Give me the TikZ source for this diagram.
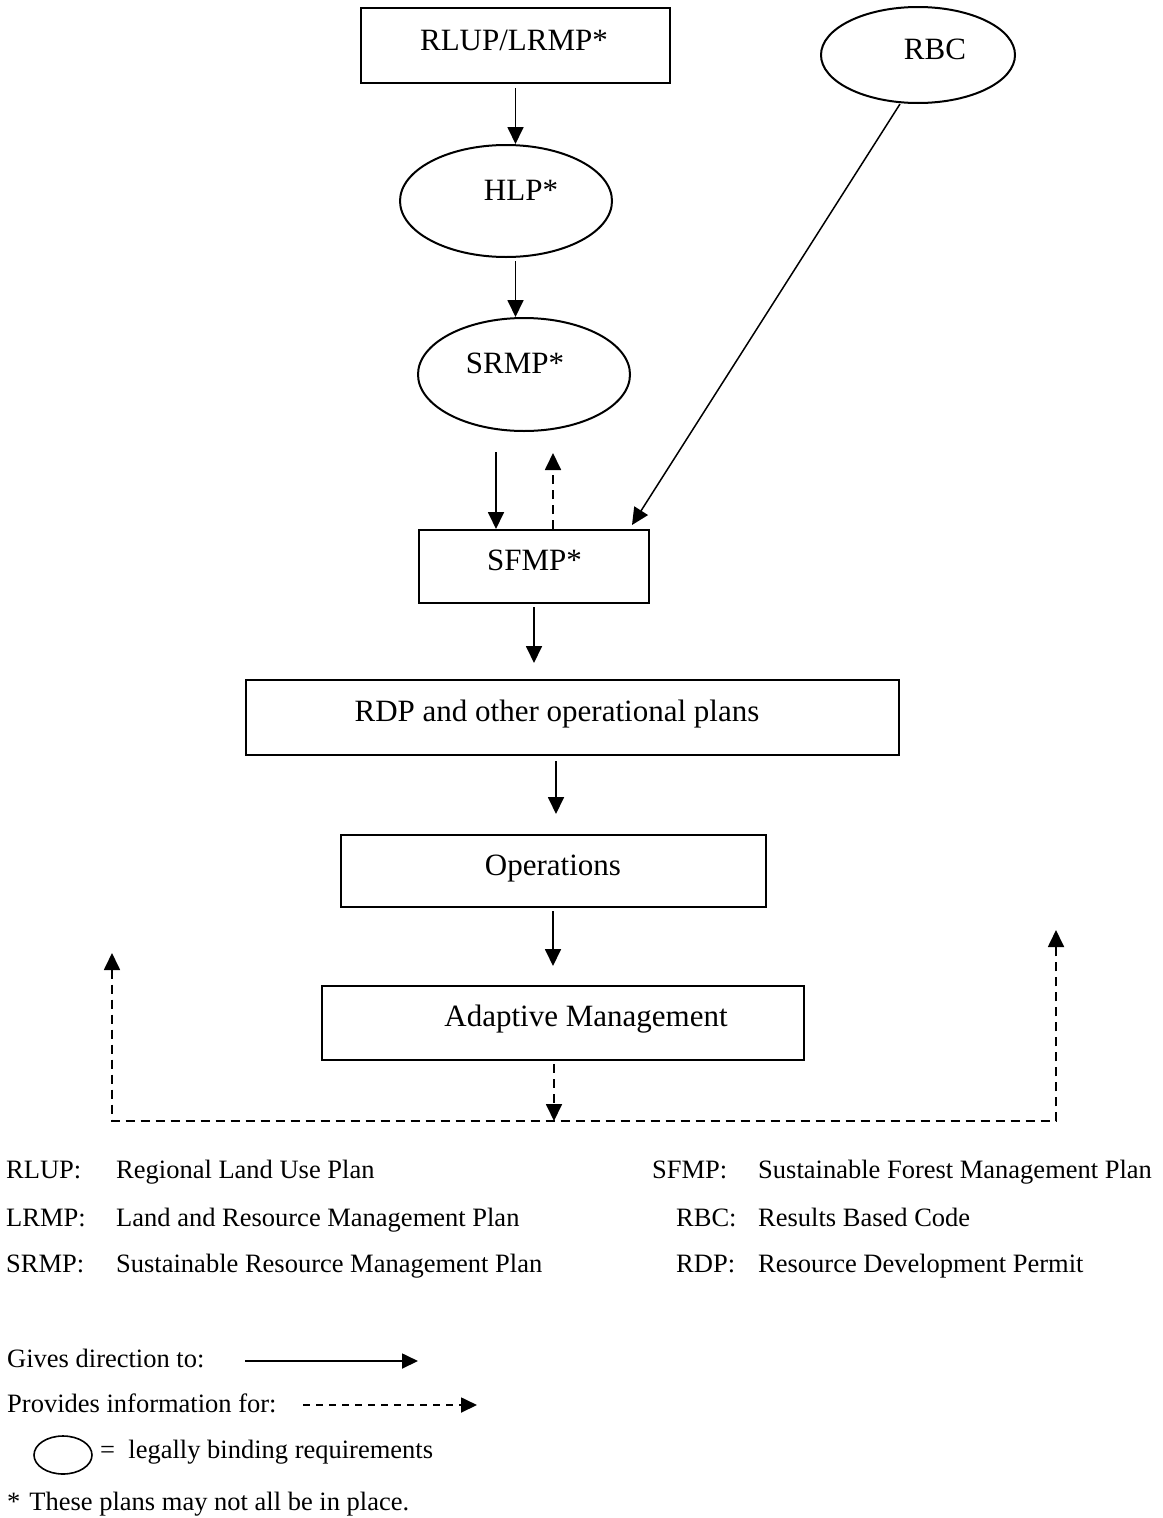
\documentclass[tikz,border=0pt]{standalone}
\usepackage{fontspec}
\setmainfont{Liberation Serif}
\usetikzlibrary{arrows.meta,shapes.geometric,calc}
\begin{document}
\begin{tikzpicture}[x=1pt,y=-1pt,
  box/.style={draw,line width=2pt,rectangle,inner sep=0pt},
  oval/.style={draw,line width=2pt,ellipse,inner sep=0pt},
  lbl/.style={anchor=base,inner sep=0pt,font=\fontsize{31}{37}\selectfont},
  leg/.style={anchor=base west,inner sep=0pt,font=\fontsize{26.5}{32}\selectfont},
  tip/.style={-{Triangle[width=16pt,length=17pt]}},
  arr/.style={line width=1.8pt,tip},
  dsh/.style={line width=1.8pt,dash pattern=on 9pt off 6pt},
  darr/.style={dsh,tip},
]
\path[fill=white] (0,0) rectangle (1162,1518);
\useasboundingbox (0,0) rectangle (1162,1518);

% shapes
\node[box,minimum width=309pt,minimum height=75pt] (rlup) at (515.5,45.5) {};
\node[lbl] (rlupT) at (514,50) {RLUP/LRMP*};
\node[oval,minimum width=194pt,minimum height=96pt] (rbc) at (918,55) {};
\node[lbl] (rbcT) at (935,59) {RBC};
\node[oval,minimum width=212pt,minimum height=112pt] (hlp) at (506,201) {};
\node[lbl] (hlpT) at (521,200) {HLP*};
\node[oval,minimum width=212pt,minimum height=113pt] (srmp) at (524,374.5) {};
\node[lbl] (srmpT) at (515,373) {SRMP*};
\node[box,minimum width=230pt,minimum height=73pt] (sfmp) at (534,566.5) {};
\node[lbl] (sfmpT) at (534.5,570) {SFMP*};
\node[box,minimum width=653pt,minimum height=75pt] (rdp) at (572.5,717.5) {};
\node[lbl] (rdpT) at (557,721) {RDP and other operational plans};
\node[box,minimum width=425pt,minimum height=72pt] (ops) at (553.5,871) {};
\node[lbl] (opsT) at (553,875) {Operations};
\node[box,minimum width=482pt,minimum height=74pt] (adm) at (563,1023) {};
\node[lbl] (admT) at (586,1026) {Adaptive Management};

% helper coordinates
\coordinate (sA) at (496,452);
\coordinate (sB) at (553,453);
\coordinate (rbcEnd) at (632,525);
\coordinate (colB) at (556,0);
\coordinate (colC) at (553,0);
\coordinate (fbMid) at (554,1121);
\coordinate (fbL) at (112,1121);
\coordinate (fbR) at (1056,1121);
\coordinate (fbLtip) at (112,953);
\coordinate (fbRtip) at (1056,930);

% connectors
\draw[arr] ($(rlup.south)+(0,4)$) -- (rlup.south |- hlp.north);
\draw[arr] ($(hlp.south -| rlup.south)+(0,3)$) -- (rlup.south |- srmp.north);
\draw[arr] (sA) -- (sA |- sfmp.north);
\draw[darr] (sfmp.north -| sB) -- (sB);
\draw[line width=1.5pt,tip] ($(rbc.south)+(-18,0)$) -- (rbcEnd);
\draw[arr,shorten >=16pt] ($(sfmp.south)+(0,3)$) -- (sfmp.south |- rdp.north);
\draw[arr,shorten >=20pt] ($(rdp.south -| colB)+(0,5)$) -- (colB |- ops.north);
\draw[arr,shorten >=19pt] ($(ops.south -| colC)+(0,3)$) -- (colC |- adm.north);
\draw[darr] ($(adm.south -| fbMid)+(0,3)$) -- (fbMid);
\draw[dsh,{Triangle[width=16pt,length=17pt]}-{Triangle[width=16pt,length=17pt]}] (fbLtip) -- (fbL) -- (fbR) -- (fbRtip);

% legend of abbreviations
\node[leg] (l1a) at (6,1178.5) {RLUP:};
\node[leg] (l1b) at (116,1178.5) {Regional Land Use Plan};
\node[leg] (l2a) at (6,1226.5) {LRMP:};
\node[leg] (l2b) at (116,1226.5) {Land and Resource Management Plan};
\node[leg] (l3a) at (6,1272.5) {SRMP:};
\node[leg] (l3b) at (116,1272.5) {Sustainable Resource Management Plan};
\node[leg] (r1a) at (652,1178.5) {SFMP:};
\node[leg] (r1b) at (758,1178.5) {Sustainable Forest Management Plan};
\node[leg] (r2a) at (676,1226.5) {RBC:};
\node[leg] (r2b) at (758,1226.5) {Results Based Code};
\node[leg] (r3a) at (676,1272.5) {RDP:};
\node[leg] (r3b) at (758,1272.5) {Resource Development Permit};

% key
\coordinate (k1s) at (245,1361);
\coordinate (k1e) at (418,1361);
\coordinate (k2s) at (303,1405);
\coordinate (k2e) at (477,1405);
\node[leg] (g1) at (7,1367) {Gives direction to:};
\draw[line width=1.8pt,-{Triangle[width=15pt,length=16pt]}] (k1s) -- (k1e);
\node[leg] (g2) at (7,1412) {Provides information for:};
\draw[line width=1.8pt,dash pattern=on 7pt off 6pt,-{Triangle[width=15pt,length=16pt]}] (k2s) -- (k2e);
\node[draw,ellipse,line width=1.6pt,minimum width=58pt,minimum height=38pt,inner sep=0pt] (legov) at (63,1455) {};
\node[leg] (g3) at (100,1458) {=\ \ legally binding requirements};
\node[leg] (g4) at (7,1510) {*\hspace{9pt}These plans may not all be in place.};
\end{tikzpicture}
\end{document}
